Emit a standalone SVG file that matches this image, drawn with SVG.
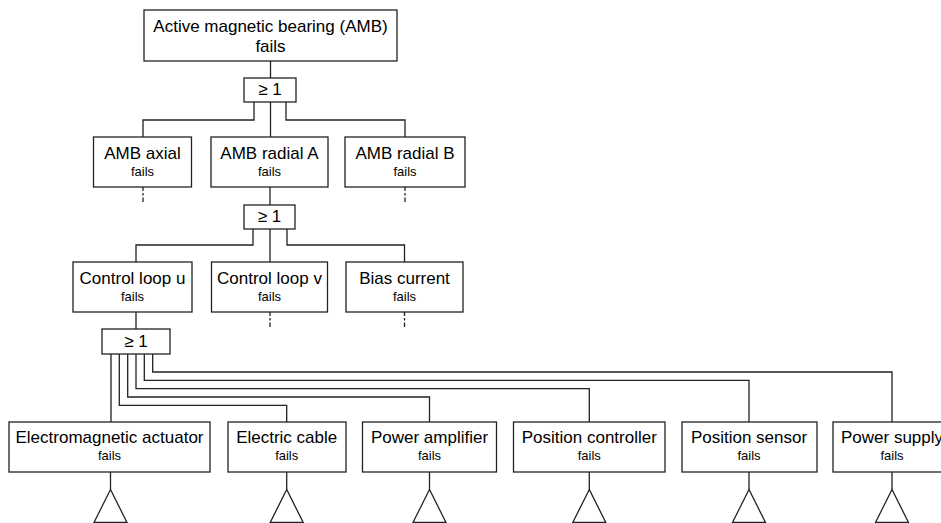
<svg xmlns="http://www.w3.org/2000/svg" width="941" height="523" viewBox="0 0 941 523">
<style>
.box{fill:#fff;stroke:#222;stroke-width:1.3}
.ln{fill:none;stroke:#222;stroke-width:1.3}
.stub{fill:none;stroke:#222;stroke-width:1.3;stroke-dasharray:4 2 2.5 2 4.5}
.t{font-family:"Liberation Sans",Arial,sans-serif;font-size:17px;fill:#000;text-anchor:middle}
.s{font-family:"Liberation Sans",Arial,sans-serif;font-size:13px;fill:#000;text-anchor:middle}
</style>
<rect width="941" height="523" fill="#fff"/>
<g id="connectors">
<path class="ln" d="M270.5 61V78"/>
<path class="ln" d="M254 102V120H143V137M270.5 102V137M286 102V120H405V137"/>
<path class="stub" d="M143 187V202M405 187V202"/>
<path class="ln" d="M270 187V205"/>
<path class="ln" d="M253 229V245H136V262M270 229V262M287 229V245H404.5V262"/>
<path class="stub" d="M270 312V327M404.5 312V327"/>
<path class="ln" d="M136 312V329"/>
<path class="ln" d="M111 354V422M119.3 354V405.3H286.7V422M127.7 354V397H429.5V422M136 354V388.7H589.3V422M144.3 354V380.3H749V422M152.7 354V372H892V422"/>
<path class="ln" d="M110.5 472V489.5M286.7 472V489.5M429.5 472V489.5M589.3 472V489.5M749 472V489.5M892 472V489.5"/>
</g>
<g id="top"><rect class="box" x="144" y="10" width="253" height="51"/><text class="t" x="270.5" y="32">Active magnetic bearing (AMB)</text><text class="t" x="270.5" y="52">fails</text></g>
<g id="gate1"><rect class="box" x="244" y="78" width="52" height="24"/><text class="t" x="270" y="95">≥ 1</text></g>
<g id="amb-axial"><rect class="box" x="93.5" y="137" width="98" height="50"/><text class="t" x="142.5" y="159">AMB axial</text><text class="s" x="142.5" y="176">fails</text></g>
<g id="amb-radial-a"><rect class="box" x="211" y="137" width="117" height="50"/><text class="t" x="269.5" y="159">AMB radial A</text><text class="s" x="269.5" y="176">fails</text></g>
<g id="amb-radial-b"><rect class="box" x="345" y="137" width="120" height="50"/><text class="t" x="405" y="159">AMB radial B</text><text class="s" x="405" y="176">fails</text></g>
<g id="gate2"><rect class="box" x="244" y="205" width="51" height="24"/><text class="t" x="269.5" y="222">≥ 1</text></g>
<g id="control-loop-u"><rect class="box" x="73" y="262" width="119" height="50"/><text class="t" x="132.5" y="284">Control loop u</text><text class="s" x="132.5" y="301">fails</text></g>
<g id="control-loop-v"><rect class="box" x="211.5" y="262" width="116" height="50"/><text class="t" x="269.5" y="284">Control loop v</text><text class="s" x="269.5" y="301">fails</text></g>
<g id="bias-current"><rect class="box" x="346" y="262" width="117" height="50"/><text class="t" x="404.5" y="284">Bias current</text><text class="s" x="404.5" y="301">fails</text></g>
<g id="gate3"><rect class="box" x="102" y="329" width="68" height="25"/><text class="t" x="136" y="347">≥ 1</text></g>
<g id="actuator"><rect class="box" x="9" y="422" width="201" height="50"/><text class="t" x="109.5" y="443">Electromagnetic actuator</text><text class="s" x="109.5" y="460">fails</text><path class="ln" d="M110.5 489.5L94 522.5H127Z"/></g>
<g id="cable"><rect class="box" x="228" y="422" width="118" height="50"/><text class="t" x="286.7" y="443">Electric cable</text><text class="s" x="286.7" y="460">fails</text><path class="ln" d="M286.7 489.5L270.2 522.5H303.2Z"/></g>
<g id="amplifier"><rect class="box" x="362.5" y="422" width="134" height="50"/><text class="t" x="429.5" y="443">Power amplifier</text><text class="s" x="429.5" y="460">fails</text><path class="ln" d="M429.5 489.5L413 522.5H446Z"/></g>
<g id="controller"><rect class="box" x="513.5" y="422" width="151.5" height="50"/><text class="t" x="589.3" y="443">Position controller</text><text class="s" x="589.3" y="460">fails</text><path class="ln" d="M589.3 489.5L572.8 522.5H605.8Z"/></g>
<g id="sensor"><rect class="box" x="682" y="422" width="135" height="50"/><text class="t" x="749" y="443">Position sensor</text><text class="s" x="749" y="460">fails</text><path class="ln" d="M749 489.5L732.5 522.5H765.5Z"/></g>
<g id="supply"><rect class="box" x="833" y="422" width="120" height="50"/><text class="t" x="892" y="443">Power supply</text><text class="s" x="892" y="460">fails</text><path class="ln" d="M892 489.5L875.5 522.5H908.5Z"/></g>
</svg>
